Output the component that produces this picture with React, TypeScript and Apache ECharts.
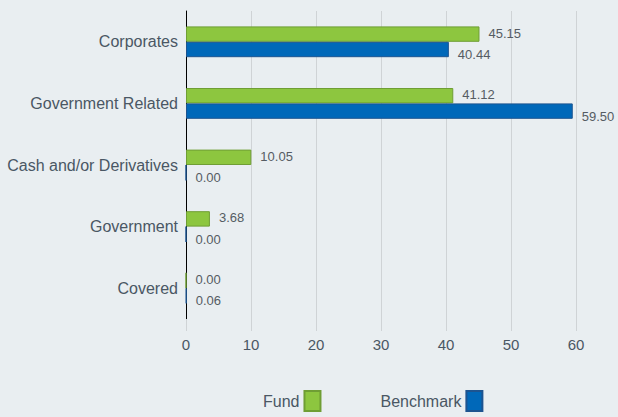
import React, { useEffect, useRef } from "react";
import * as echarts from "echarts";

const categories = ["Corporates", "Government Related", "Cash and/or Derivatives", "Government", "Covered"];
const fundValues = [45.15, 41.12, 10.05, 3.68, 0.0];
const benchmarkValues = [40.44, 59.5, 0.0, 0.0, 0.06];
const xTicks = [0, 10, 20, 30, 40, 50, 60];

const FONT = "Liberation Sans, Arial, sans-serif";
const TEXT = "#4a5764";

export default function App() {
  const ref = useRef<HTMLDivElement>(null);
  useEffect(() => {
    if (!ref.current) return;
    const chart = echarts.init(ref.current, undefined, { renderer: "svg" });
    chart.setOption({
      animation: false,
      backgroundColor: "#e9eef1",
      textStyle: { fontFamily: FONT },
      grid: { left: 186, right: 42, top: 11, bottom: 98, containLabel: false },
      legend: {
        left: 258,
        top: 385,
        align: "right",
        itemWidth: 16,
        itemHeight: 20,
        itemGap: 59,
        icon: "rect",
        textStyle: { fontSize: 16, color: TEXT, fontFamily: FONT },
        data: ["Fund", "Benchmark"],
      },
      xAxis: {
        type: "value",
        min: xTicks[0],
        max: xTicks[xTicks.length - 1],
        interval: 10,
        axisLine: { show: false },
        axisTick: { show: true, length: 12, lineStyle: { color: "#cfd3d6" } },
        splitLine: { show: true, lineStyle: { color: "#cfd3d6", width: 1 } },
        axisLabel: { fontSize: 15, color: TEXT, margin: 18, fontFamily: FONT },
      },
      yAxis: {
        type: "category",
        inverse: true,
        data: categories,
        axisLine: { show: true, lineStyle: { color: "#000", width: 1 } },
        axisTick: { show: false },
        axisLabel: { fontSize: 16, color: TEXT, margin: 8, fontFamily: FONT, padding: [3, 0, 0, 0] },
      },
      series: [
        {
          name: "Fund",
          type: "bar",
          data: fundValues,
          barGap: "0%",
          barCategoryGap: "50%",
          itemStyle: { color: "#8dc63f", borderColor: "#6f9e34", borderWidth: 1 },
          label: {
            show: true,
            position: "right",
            distance: 9,
            offset: [0, -1],
            formatter: (p: any) => p.value.toFixed(2),
            fontSize: 13,
            color: "#555c63",
            fontFamily: FONT,
          },
        },
        {
          name: "Benchmark",
          type: "bar",
          data: benchmarkValues,
          barGap: "0%",
          barCategoryGap: "50%",
          itemStyle: { color: "#0068b9", borderColor: "#1d5490", borderWidth: 1 },
          label: {
            show: true,
            position: "right",
            distance: 9,
            offset: [0, 5],
            formatter: (p: any) => p.value.toFixed(2),
            fontSize: 13,
            color: "#555c63",
            fontFamily: FONT,
          },
        },
      ],
    });
    return () => chart.dispose();
  }, []);
  return <div ref={ref} style={{ width: 618, height: 417, position: "absolute", left: 0, top: 0 }} />;
}
